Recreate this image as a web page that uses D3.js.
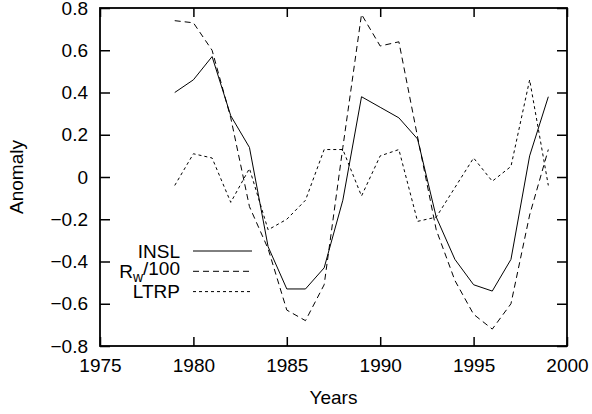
<!DOCTYPE html>
<html>
<head>
<meta charset="utf-8">
<script src="https://cdn.jsdelivr.net/npm/d3@7"></script>
<style>
  body { margin: 0; background: #fff; }
  svg { display: block; font-family: "Liberation Sans", Arial, sans-serif; }
</style>
</head>
<body>
<svg id="chart" width="592" height="414"></svg>
<script>
const years = d3.range(1979, 2000);
const insl = [0.40, 0.46, 0.57, 0.29, 0.14, -0.33, -0.53, -0.53, -0.43, -0.11, 0.38,
              0.33, 0.28, 0.18, -0.19, -0.39, -0.51, -0.54, -0.39, 0.10, 0.38];
const rw100 = [0.74, 0.73, 0.60, 0.28, -0.14, -0.34, -0.63, -0.68, -0.51, 0.14, 0.77,
               0.62, 0.64, 0.19, -0.25, -0.49, -0.65, -0.72, -0.60, -0.18, 0.13];
const ltrp = [-0.04, 0.11, 0.09, -0.12, 0.04, -0.25, -0.20, -0.11, 0.13, 0.13, -0.09,
              0.10, 0.13, -0.21, -0.19, -0.05, 0.09, -0.02, 0.05, 0.46, -0.04];
const xTicks = [1975, 1980, 1985, 1990, 1995, 2000];
const yTicks = [-0.8, -0.6, -0.4, -0.2, 0, 0.2, 0.4, 0.6, 0.8];

const series = [
  { name: "INSL", values: insl, dash: null },
  { name: "Rw/100", values: rw100, dash: "6,4" },
  { name: "LTRP", values: ltrp, dash: "3,3" }
];

const svg = d3.select("#chart");
const margin = { top: 8, right: 25, bottom: 68, left: 100 };
const width = 592 - margin.left - margin.right;
const height = 414 - margin.top - margin.bottom;
const fontSize = 19;

const x = d3.scaleLinear().domain([1975, 2000]).range([0, width]);
const y = d3.scaleLinear().domain([-0.8, 0.8]).range([height, 0]);

const g = svg.append("g")
  .attr("transform", `translate(${margin.left},${margin.top})`);

// axes, ticks pointing inward
const fmtY = d => d === 0 ? "0" : d3.format(".1f")(d);

const axisB = g.append("g")
  .attr("transform", `translate(0,${height})`)
  .call(d3.axisBottom(x).tickValues(xTicks).tickFormat(d3.format("d"))
    .tickSizeInner(-9).tickSizeOuter(0).tickPadding(13));
const axisL = g.append("g")
  .call(d3.axisLeft(y).tickValues(yTicks).tickFormat(fmtY)
    .tickSizeInner(-10).tickSizeOuter(0).tickPadding(12));
const axisT = g.append("g")
  .call(d3.axisTop(x).tickValues(xTicks).tickFormat("")
    .tickSizeInner(-9).tickSizeOuter(0));
const axisR = g.append("g")
  .attr("transform", `translate(${width},0)`)
  .call(d3.axisRight(y).tickValues(yTicks).tickFormat("")
    .tickSizeInner(-10).tickSizeOuter(0));

[axisB, axisL, axisT, axisR].forEach(a => {
  a.select(".domain").remove();
  a.selectAll(".tick line").attr("stroke", "#000").attr("stroke-width", 1.5);
  a.selectAll(".tick text")
    .attr("fill", "#000")
    .style("font-size", fontSize + "px")
    .style("font-family", "'Liberation Sans', Arial, sans-serif");
});

// frame
g.append("rect")
  .attr("width", width)
  .attr("height", height)
  .attr("fill", "none")
  .attr("stroke", "#000")
  .attr("stroke-width", 1.8);

// lines
const line = d3.line()
  .x((d, i) => x(years[i]))
  .y(d => y(d));

series.forEach(s => {
  g.append("path")
    .datum(s.values)
    .attr("fill", "none")
    .attr("stroke", "#000")
    .attr("stroke-width", 1)
    .attr("stroke-dasharray", s.dash)
    .attr("d", line);
});

// legend
const legend = g.append("g").attr("transform", "translate(0,243)");
series.forEach((s, i) => {
  const row = legend.append("g").attr("transform", `translate(0,${i * 20.3})`);
  const t = row.append("text")
    .attr("x", 80)
    .attr("y", 0)
    .attr("text-anchor", "end")
    .attr("dy", "0.36em")
    .style("font-size", fontSize + "px");
  if (s.name === "Rw/100") {
    t.append("tspan").text("R");
    t.append("tspan").attr("dy", "0.3em").style("font-size", "14px").text("w");
    t.append("tspan").attr("dy", "-0.4em").text("/100");
  } else {
    t.text(s.name);
  }
  row.append("line")
    .attr("x1", 93)
    .attr("x2", 152)
    .attr("y1", 0)
    .attr("y2", 0)
    .attr("stroke", "#000")
    .attr("stroke-width", 1)
    .attr("stroke-dasharray", s.dash);
});

// axis titles
svg.append("text")
  .attr("x", margin.left + width / 2)
  .attr("y", 404)
  .attr("text-anchor", "middle")
  .style("font-size", fontSize + "px")
  .text("Years");

svg.append("text")
  .attr("transform", `translate(23,${margin.top + height / 2}) rotate(-90)`)
  .attr("text-anchor", "middle")
  .style("font-size", fontSize + "px")
  .text("Anomaly");
</script>
</body>
</html>
